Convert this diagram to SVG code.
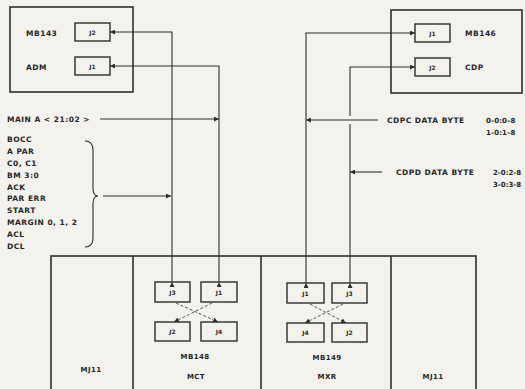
<svg xmlns="http://www.w3.org/2000/svg" width="525" height="389" viewBox="0 0 525 389">
<style>
.bg{fill:#f4f2ec}
.box{fill:none;stroke:#2e2e2e;stroke-width:1.6}
.jb{fill:#f4f2ec;stroke:#2e2e2e;stroke-width:1.4}
.ln{fill:none;stroke:#2e2e2e;stroke-width:1.1}
.ds{fill:none;stroke:#555;stroke-width:1;stroke-dasharray:3,2}
text{font-family:"DejaVu Sans","Liberation Sans",sans-serif;font-weight:bold;fill:#262626}
.t{font-size:7.5px;letter-spacing:0.5px}
.n{font-size:7px}
.j{font-size:6px;text-anchor:middle}
.c{font-size:7px;text-anchor:middle;letter-spacing:0.4px}
</style>
<defs>
<marker id="ah" viewBox="0 0 6 6" refX="6" refY="3" markerWidth="5" markerHeight="5" markerUnits="userSpaceOnUse" orient="auto">
<path d="M0,0 L6,3 L0,6 z" fill="#2e2e2e"/>
</marker>
</defs>
<rect class="bg" x="0" y="0" width="525" height="389"/>

<g id="node-mb143">
<rect class="box" x="10" y="7" width="123" height="85"/>
<text class="t" x="26" y="36">MB143</text>
<text class="t" x="26" y="70">ADM</text>
<rect class="jb" x="75" y="23" width="35" height="18"/>
<text class="j" x="92.5" y="34.5">J2</text>
<rect class="jb" x="75" y="57" width="35" height="18"/>
<text class="j" x="92.5" y="68.5">J1</text>
</g>

<g id="node-mb146">
<rect class="box" x="391" y="10" width="131" height="83"/>
<rect class="jb" x="415" y="24" width="35" height="18"/>
<text class="j" x="432.5" y="35.5">J1</text>
<rect class="jb" x="415" y="58" width="35" height="18"/>
<text class="j" x="432.5" y="69.5">J2</text>
<text class="t" x="465" y="36">MB146</text>
<text class="t" x="465" y="70">CDP</text>
</g>

<g id="labels">
<text class="t" x="7" y="122">MAIN A &lt; 21:02 &gt;</text>
<text class="t" x="7" y="142">BOCC</text>
<text class="t" x="7" y="154">A PAR</text>
<text class="t" x="7" y="166">C0, C1</text>
<text class="t" x="7" y="178">BM 3:0</text>
<text class="t" x="7" y="189.5">ACK</text>
<text class="t" x="7" y="201">PAR ERR</text>
<text class="t" x="7" y="213">START</text>
<text class="t" x="7" y="225">MARGIN 0, 1, 2</text>
<text class="t" x="7" y="237">ACL</text>
<text class="t" x="7" y="249">DCL</text>
<path class="ln" d="M85,141 Q93,141 93,150 L93,188 Q93,196 98,196 Q93,196 93,204 L93,238 Q93,247 85,247" stroke-width="1.3"/>
<text class="t" x="387" y="123">CDPC DATA BYTE</text>
<text class="n" x="486" y="123">0–0:0–8</text>
<text class="n" x="486" y="135">1–0:1–8</text>
<text class="t" x="396" y="175">CDPD DATA BYTE</text>
<text class="n" x="493" y="175">2-0:2-8</text>
<text class="n" x="493" y="187">3-0:3-8</text>
</g>

<g id="node-bottom">
<rect class="box" x="51" y="256" width="425" height="140"/>
<line class="box" x1="133" y1="256" x2="133" y2="389"/>
<line class="box" x1="261" y1="256" x2="261" y2="389"/>
<line class="box" x1="391" y1="256" x2="391" y2="389"/>
<text class="c" x="91" y="372">MJ11</text>
<text class="c" x="433" y="379">MJ11</text>
</g>

<g id="node-mb148">
<rect class="jb" x="155" y="282" width="35" height="20"/>
<text class="j" x="172.5" y="294.5">J3</text>
<rect class="jb" x="201" y="282" width="36" height="20"/>
<text class="j" x="219" y="294.5">J1</text>
<rect class="jb" x="155" y="322" width="35" height="19"/>
<text class="j" x="172.5" y="334">J2</text>
<rect class="jb" x="201" y="322" width="36" height="19"/>
<text class="j" x="219" y="334">J4</text>
<text class="c" x="195" y="359">MB148</text>
<text class="c" x="196" y="379">MCT</text>
</g>

<g id="node-mb149">
<rect class="jb" x="287" y="283" width="37" height="20"/>
<text class="j" x="305.5" y="295.5">J1</text>
<rect class="jb" x="332" y="283" width="35" height="20"/>
<text class="j" x="349.5" y="295.5">J3</text>
<rect class="jb" x="287" y="323" width="37" height="19"/>
<text class="j" x="305.5" y="335">J4</text>
<rect class="jb" x="332" y="323" width="35" height="19"/>
<text class="j" x="349.5" y="335">J2</text>
<text class="c" x="327" y="360">MB149</text>
<text class="c" x="327" y="379">MXR</text>
</g>

<g id="connectors">
<path class="ln" d="M172,282 L172,32 L110,32" marker-start="url(#ah)" marker-end="url(#ah)"/>
<path class="ln" d="M219,282 L219,66 L110,66" marker-start="url(#ah)" marker-end="url(#ah)"/>
<path class="ln" d="M100,119 L219,119" marker-end="url(#ah)"/>
<path class="ln" d="M103,196 L171,196" marker-end="url(#ah)"/>
<path class="ln" d="M306,283 L306,33 L415,33" marker-start="url(#ah)" marker-end="url(#ah)"/>
<path class="ln" d="M350,283 L350,124" marker-start="url(#ah)"/>
<path class="ln" d="M350,116 L350,67 L415,67" marker-end="url(#ah)"/>
<path class="ln" d="M378,120 L306,120" marker-end="url(#ah)"/>
<path class="ln" d="M382,172 L350,172" marker-end="url(#ah)"/>
<path class="ds" d="M176,303 L218,322" marker-end="url(#ah)"/>
<path class="ds" d="M212,303 L174,322" marker-end="url(#ah)"/>
<path class="ds" d="M310,304 L346,323" marker-end="url(#ah)"/>
<path class="ds" d="M343,304 L305,323" marker-end="url(#ah)"/>
</g>
</svg>
